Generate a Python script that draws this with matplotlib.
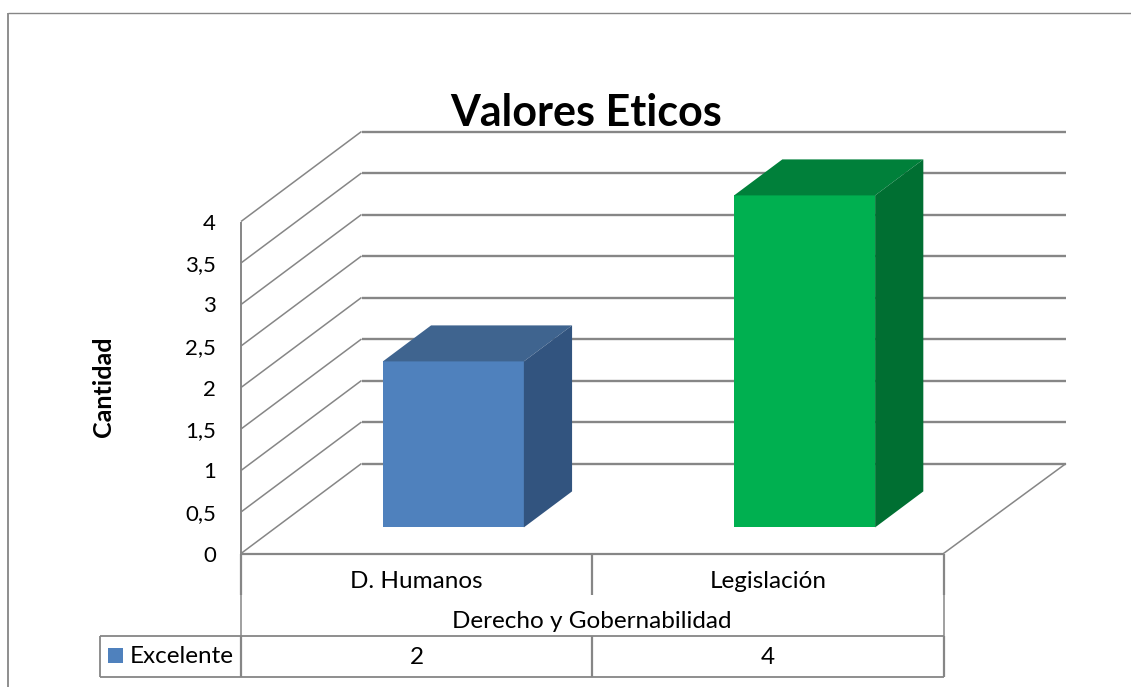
import matplotlib
matplotlib.use("Agg")
import matplotlib.pyplot as plt
from matplotlib.patches import Polygon, Rectangle

plt.rcParams['font.family'] = ['Lato', 'DejaVu Sans']

# data
categories = ["D. Humanos", "Legislación"]
group_label = "Derecho y Gobernabilidad"
series_name = "Excelente"
values = [2, 4]
y_ticks = [0, 0.5, 1, 1.5, 2, 2.5, 3, 3.5, 4]
y_tick_labels = ["0", "0,5", "1", "1,5", "2", "2,5", "3", "3,5", "4"]
front_colors = ["#4F81BD", "#00B050"]
top_colors = ["#3F648F", "#00803A"]
side_colors = ["#32547F", "#006F32"]

GRID = "#868686"
W, H = 1131, 687

# plot geometry in pixels
x_left, x_right = 241.0, 943.5
y_floor = 553.5
unit = 83.0
dx, dy = 120.5, -90.0
back_right = 1066.0
bar_w = 141.0
bar_shift = 1.8
front_frac, back_frac = 0.29, 0.69


def proj(cat_x, val, depth=0.0):
    # oblique projection: category position, value, depth -> pixel
    return (x_left + cat_x * (x_right - x_left) / len(categories) + depth * dx,
            y_floor - val * unit + depth * dy)


fig = plt.figure(figsize=(W / 100, H / 100), dpi=100)
ax = fig.add_axes([0, 0, 1, 1])
ax.set_xlim(0, W)
ax.set_ylim(H, 0)
ax.axis("off")


def line(xs, ys, lw=1.2, color=GRID, z=1):
    ax.plot(xs, ys, color=color, lw=lw, solid_capstyle="butt", zorder=z)


# outer frame, open on the right and bottom
line([8, 8], [12.5, H], lw=1.3)
line([8, W], [12.5, 12.5], lw=1.0)

# walls
for t, lab in zip(y_ticks, y_tick_labels):
    x0, y0 = proj(0, t)
    x1, y1 = proj(0, t, 1)
    line([x0, x1], [y0, y1], lw=1.1)
    line([x1, back_right], [y1, y1], lw=1.7)
    ax.text(x0 - 25, y0 + 2, lab, ha="right", va="center", fontsize=16, color="black")
line([x_left, x_left], [proj(0, max(y_ticks))[1], y_floor], lw=1.4)
line([x_right, back_right], [y_floor, proj(0, 0, 1)[1]], lw=1.1)

# bars
for i, (v, fc, tc, sc) in enumerate(zip(values, front_colors, top_colors, side_colors)):
    cx = i + 0.5 + bar_shift / ((x_right - x_left) / len(categories))
    half = bar_w / 2 / ((x_right - x_left) / len(categories))
    a = proj(cx - half, 0, front_frac)
    b = proj(cx + half, 0, front_frac)
    c = proj(cx + half, v, front_frac)
    d = proj(cx - half, v, front_frac)
    e = proj(cx - half, v, back_frac)
    f = proj(cx + half, v, back_frac)
    g = proj(cx + half, 0, back_frac)
    ax.add_patch(Polygon([a, b, c, d], closed=True, fc=fc, ec="none", zorder=3))
    ax.add_patch(Polygon([d, c, f, e], closed=True, fc=tc, ec="none", zorder=3))
    ax.add_patch(Polygon([b, g, f, c], closed=True, fc=sc, ec="none", zorder=3))

# data table under the plot
y_cat, y_group, y_bot = 595.0, 635.5, 677.0
x_mid = (x_left + x_right) / 2
x_leg = 99.5
line([x_left, x_right], [y_floor, y_floor], lw=1.6)
line([x_left, x_right], [y_group, y_group], lw=1.3)
line([x_leg, x_left], [y_group, y_group], lw=1.3)
line([x_leg, x_right], [y_bot, y_bot], lw=1.3)
line([x_leg, x_leg], [y_group, y_bot], lw=1.3)
for x in [x_left, x_right]:
    line([x, x], [y_floor, y_cat], lw=1.6)
    line([x, x], [y_cat, y_group], lw=1.1)
    line([x, x], [y_group, y_bot], lw=1.6)
line([x_mid, x_mid], [y_floor, y_cat], lw=1.6)
line([x_mid, x_mid], [y_group, y_bot], lw=1.6)

for i, (cat, v) in enumerate(zip(categories, values)):
    xc = proj(i + 0.5, 0)[0]
    ax.text(xc, 581, cat, ha="center", va="center", fontsize=17.5, color="black")
    ax.text(xc, 657, str(v), ha="center", va="center", fontsize=17.5, color="black")
ax.text(x_mid, 622, group_label, ha="center", va="center", fontsize=17.5, color="black")

ax.add_patch(Rectangle((108, 648), 15, 15, fc=front_colors[0], ec="none", zorder=3))
ax.text(130, 656.5, series_name, ha="left", va="center", fontsize=17.5, color="black")

ax.text(586, 113, "Valores Eticos", ha="center", va="center", fontsize=31,
        fontweight="bold", color="black")
ax.text(103, 387, "Cantidad", rotation=90, ha="center", va="center", fontsize=18,
        fontweight="bold", color="black")

fig.savefig("out.png", dpi=100)
